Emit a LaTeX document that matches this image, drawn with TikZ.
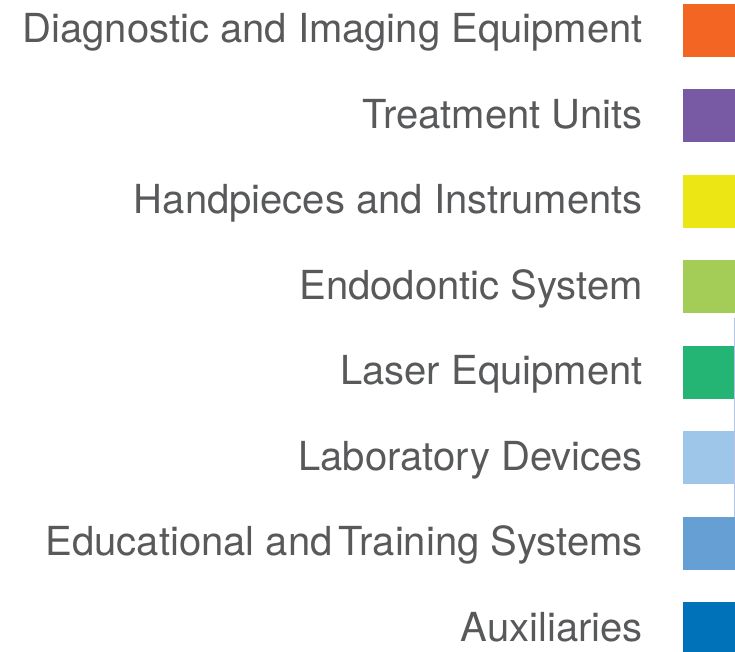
\documentclass[tikz,border=0pt]{standalone}
\usepackage{fontspec}
\setmainfont{TeX Gyre Heros}
\definecolor{textgray}{HTML}{58595B}
\definecolor{diagorange}{HTML}{F26522}
\definecolor{treatpurple}{HTML}{7759A4}
\definecolor{handyellow}{HTML}{EBE614}
\definecolor{endogreen}{HTML}{A3CD57}
\definecolor{lasergreen}{HTML}{24B574}
\definecolor{labblue}{HTML}{9DC6E8}
\definecolor{edublue}{HTML}{659FD4}
\definecolor{auxblue}{HTML}{0072BA}
\definecolor{edgeblue}{HTML}{B4C4E4}
\tikzset{
  swatch/.style={rectangle, inner sep=0pt, minimum width=52pt, minimum height=53pt},
  lbl/.style={anchor=base east, inner sep=0pt, text=textgray, font=\fontsize{40}{45}\selectfont}
}
\begin{document}
\begin{tikzpicture}[x=1pt, y=-1pt]
    \clip (0,0) rectangle (735,652);
    \fill[white] (0,0) rectangle (735,652);

    % Labels
    \node[lbl] (L1) at (643,43) {Diagnostic and Imaging Equipment};
    \node[lbl] (L2) at (643,128.4) {Treatment Units};
    \node[lbl] (L3) at (643,213.9) {Handpieces and Instruments};
    \node[lbl] (L4) at (643,299.3) {Endodontic System};
    \node[lbl] (L5) at (643,384.7) {Laser Equipment};
    \node[lbl] (L6) at (643,470.2) {Laboratory Devices};
    \node[lbl] (L7) at (643,555.6) {Educational and\hspace{-0.12em} Training Systems};
    \node[lbl] (L8) at (643,641) {Auxiliaries};

    % Colour swatches
    \node[swatch, fill=diagorange] (S1) at (709,30.5) {};
    \node[swatch, fill=treatpurple] (S2) at (709,115.9) {};
    \node[swatch, fill=handyellow] (S3) at (709,201.4) {};
    \node[swatch, fill=endogreen] (S4) at (709,286.8) {};
    \node[swatch, fill=lasergreen] (S5) at (709,372.2) {};
    \node[swatch, fill=labblue] (S6) at (709,457.7) {};
    \node[swatch, fill=edublue] (S7) at (709,543.1) {};
    \node[swatch, fill=auxblue] (S8) at (709,628.5) {};

    % Thin edge line
    \coordinate (E1) at (734.5,318);
    \coordinate (E2) at (734.5,517);
    \draw[edgeblue, line width=0.8pt] (E1) -- (E2);
\end{tikzpicture}
\end{document}
